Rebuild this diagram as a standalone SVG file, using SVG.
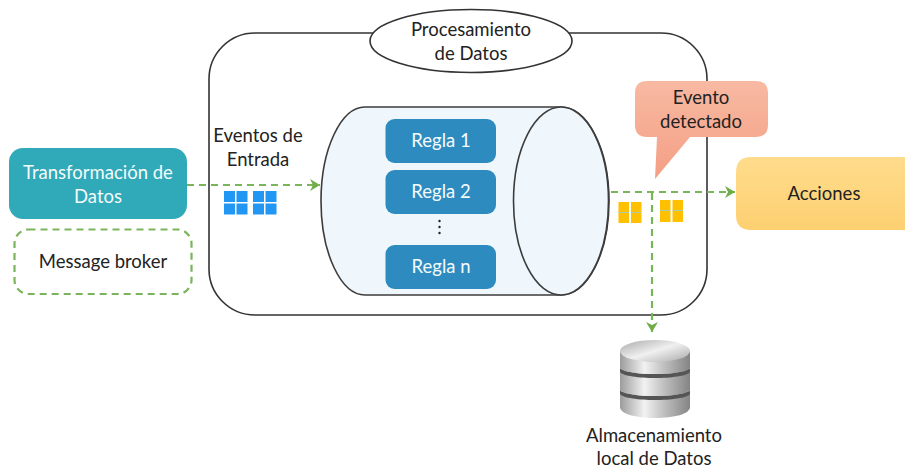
<svg xmlns="http://www.w3.org/2000/svg" width="905" height="468" viewBox="0 0 905 468">
<style>
text{font-family:Lato,Carlito,"Open Sans",sans-serif;font-size:18.500px;text-anchor:middle;fill:#222}
.w{fill:#f4fbfb}
.flow{fill:none;stroke:#7ab55c;stroke-width:2.200;stroke-dasharray:7 5}
.rule{fill:#2e8bc0}
.blue{fill:#2196f3}
.yel{fill:#ffc000}
.ol{stroke:#3c3c3c;stroke-width:1.600}
</style>
<defs>
<marker id="arr" markerWidth="14" markerHeight="14" refX="11" refY="6" orient="auto" markerUnits="userSpaceOnUse"><path d="M1 0L11 6L1 12L4 6Z" fill="#70ad47"/></marker>
<linearGradient id="ac" x1="0" y1="0" x2="0" y2="1"><stop offset="0" stop-color="#ffdc8c"/><stop offset="1" stop-color="#fdd071"/></linearGradient>
<linearGradient id="ev" x1="0" y1="0" x2="0" y2="1"><stop offset="0" stop-color="#f8b9a2"/><stop offset="1" stop-color="#f49f85"/></linearGradient>
<linearGradient id="metal" x1="0" y1="0" x2="1" y2="0"><stop offset="0" stop-color="#9c9c9c"/><stop offset=".35" stop-color="#f2f2f2"/><stop offset=".6" stop-color="#c4c4c4"/><stop offset="1" stop-color="#848484"/></linearGradient>
<linearGradient id="topm" x1="0" y1="0" x2="1" y2="1"><stop offset="0" stop-color="#a8a8a8"/><stop offset=".5" stop-color="#f0f0f0"/><stop offset="1" stop-color="#a8a8a8"/></linearGradient>
</defs>
<g id="procesamiento">
<rect x="209" y="33" width="498" height="282" rx="46" fill="#fff" stroke="#333" stroke-width="1.600"/>
<ellipse cx="471" cy="41" rx="101" ry="31.500" fill="#fff" stroke="#333" stroke-width="1.600"/>
<text x="471" y="36">Procesamiento</text>
<text x="471" y="60">de Datos</text>
</g>
<g id="motor">
<path class="ol" d="M365 107H561C587.500 107 609 149 609 201S587.500 295 561 295H365C341 295 321 253 321 201S341 107 365 107Z" fill="#eff7fc"/>
<ellipse class="ol" cx="561" cy="201" rx="47.500" ry="94" fill="#eff7fc"/>
</g>
<g id="regla1"><rect class="rule" x="385.500" y="119" width="110.500" height="44" rx="9"/><text class="w" x="441" y="147">Regla 1</text></g>
<g id="regla2"><rect class="rule" x="385.500" y="170" width="110.500" height="44" rx="9"/><text class="w" x="441" y="198">Regla 2</text></g>
<g id="puntos"><circle cx="439.500" cy="221" r="1.200" fill="#222"/><circle cx="439.500" cy="227" r="1.200" fill="#222"/><circle cx="439.500" cy="233" r="1.200" fill="#222"/></g>
<g id="reglan"><rect class="rule" x="385.500" y="245" width="110.500" height="44" rx="9"/><text class="w" x="441" y="273">Regla n</text></g>
<g id="transformacion"><rect x="9" y="148" width="178" height="71" rx="14" fill="#30a9b9"/><text class="w" x="98" y="179">Transformación de</text><text class="w" x="98" y="203">Datos</text></g>
<g id="broker"><rect class="flow" x="14.500" y="229.500" width="177" height="64.500" rx="14"/><text x="103" y="268">Message broker</text></g>
<g id="entrada"><text x="258" y="142">Eventos de</text><text x="258" y="166">Entrada</text>
<path class="blue" d="M224 191h11v11h-11zM236.500 191h11v11h-11zM224 203.500h11v11h-11zM236.500 203.500h11v11h-11zM253 191h11v11h-11zM265.500 191h11v11h-11zM253 203.500h11v11h-11zM265.500 203.500h11v11h-11z"/></g>
<g id="salida">
<path class="yel" d="M618.500 202h10.500v21h-10.500zM631 202h10.500v21h-10.500zM660 200h10.500v22h-10.500zM672.500 200h10.500v22h-10.500z"/>
<path d="M618.500 212.500h10.500M631 212.500h10.500M660 210.500h10.500M672.500 210.500h10.500" stroke="#a9cdb0" stroke-width="1.200" fill="none"/>
</g>
<g id="connectors">
<path class="flow" marker-end="url(#arr)" d="M187 185H320"/>
<path class="flow" marker-end="url(#arr)" d="M611 192H735"/>
<path class="flow" marker-end="url(#arr)" d="M652 193V332"/>
</g>
<g id="evento"><path d="M647 81H756Q768 81 768 93V125Q768 137 756 137H690L655 179L657 137H647Q635 137 635 125V93Q635 81 647 81Z" fill="url(#ev)"/><text x="701" y="104">Evento</text><text x="701" y="128">detectado</text></g>
<g id="acciones"><path d="M751 157H905V230H751Q736 230 736 215V172Q736 157 751 157Z" fill="url(#ac)"/><text x="824" y="200">Acciones</text></g>
<g id="almacenamiento">
<path d="M620 392V407C620 414 636 418 655 418S690 414 690 407V392Z" fill="url(#metal)"/>
<path d="M620 390C626 398 684 398 690 390V394C684 402 626 402 620 394Z" fill="#555"/>
<path d="M620 369V390C626 398 684 398 690 390V369Z" fill="url(#metal)"/>
<path d="M620 368C626 376 684 376 690 368V372C684 380 626 380 620 372Z" fill="#555"/>
<path d="M620 351V368C626 376 684 376 690 368V351Z" fill="url(#metal)"/>
<ellipse cx="655" cy="351" rx="35" ry="11" fill="url(#topm)"/>
<text x="654" y="442">Almacenamiento</text><text x="654" y="465">local de Datos</text>
</g>
</svg>
